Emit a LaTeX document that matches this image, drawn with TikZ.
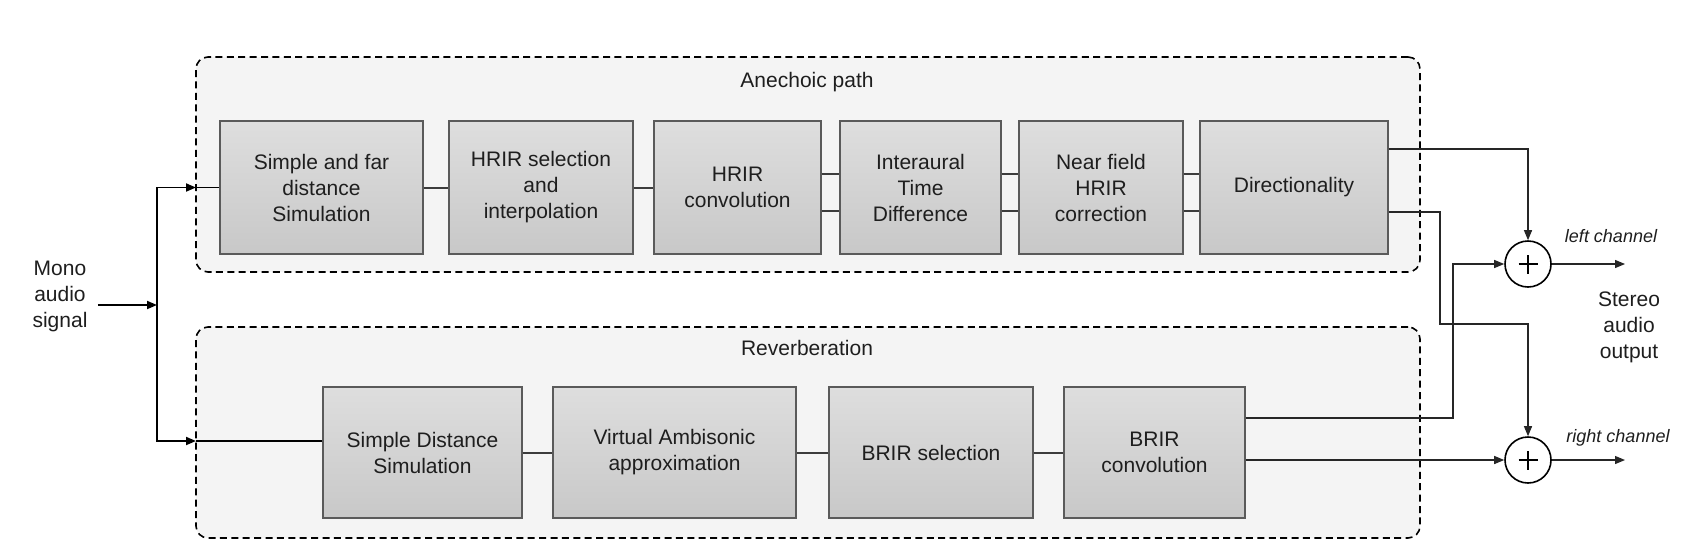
\documentclass[tikz,border=0pt]{standalone}
\usepackage{fontspec}
\setmainfont{Liberation Sans}
\usetikzlibrary{arrows.meta,shadings}
\definecolor{contfill}{HTML}{F4F4F4}
\definecolor{boxtop}{HTML}{DEDEDE}
\definecolor{boxbot}{HTML}{C8C8C8}
\definecolor{boxline}{HTML}{5A5A5A}
\definecolor{txt}{HTML}{1E1E1E}
\definecolor{conn}{HTML}{3C3C3C}
\begin{document}
\begin{tikzpicture}[x=0.5pt,y=-0.5pt,
  every node/.style={font=\fontsize{10.5}{13}\selectfont, text=txt},
  cont/.style={draw=black, dash pattern=on 3.5pt off 2.2pt, line width=0.8pt, fill=contfill, rounded corners=6pt, inner sep=0pt, minimum width=612pt},
  blk/.style={draw=boxline, line width=0.6pt, top color=boxtop, bottom color=boxbot, align=center, inner sep=0pt},
  toprow/.style={blk, minimum height=66.5pt},
  botrow/.style={blk, minimum height=65.5pt},
  link/.style={draw=conn, line width=1pt},
  feed/.style={draw=black, line width=0.9pt, -{Triangle[length=5pt,width=4pt]}},
  outl/.style={draw=black!85, line width=0.6pt, -{Triangle[length=5pt,width=4pt]}},
  plain/.style={draw=black!85, line width=0.6pt},
  sumc/.style={circle, draw=black, line width=0.8pt, minimum size=23pt, inner sep=0pt,
    path picture={
      \draw[line width=0.8pt] ([xshift=-4.75pt]path picture bounding box.center) -- ([xshift=4.75pt]path picture bounding box.center);
      \draw[line width=0.8pt] ([yshift=-4.75pt]path picture bounding box.center) -- ([yshift=4.75pt]path picture bounding box.center);
    }},
  chan/.style={font=\fontsize{9}{11}\selectfont\itshape},
  ttl/.style={font=\fontsize{10.5}{13}\selectfont}
]
\useasboundingbox (0,0) rectangle (1706,558);
\fill[white] (0,0) rectangle (1706,558);

% containers
\node[cont, minimum height=107.5pt] (anech) at (808,164.5) {};
\node[cont, minimum height=105.5pt] (reverb) at (808,432.5) {};
\node[ttl] (tA) at (807,82) {Anechoic path};
\node[ttl] (tR) at (807,348) {Reverberation};

% top row
\node[toprow, minimum width=101.5pt] (B1) at (321.5,187.5) {Simple and far\\distance\\Simulation};
\node[toprow, minimum width=92pt] (B2) at (541,187.5) {HRIR selection\\and\\interpolation};
\node[toprow, minimum width=83.5pt] (B3) at (737.5,187.5) {HRIR\\convolution};
\node[toprow, minimum width=80.5pt] (B4) at (920.5,187.5) {Interaural\\Time\\Difference};
\node[toprow, minimum width=82pt] (B5) at (1101,187.5) {Near field\\HRIR\\correction};
\node[toprow, minimum width=94pt] (B6) at (1294,187.5) {Directionality};

% bottom row
\node[botrow, minimum width=99.5pt] (B7) at (422.5,452.5) {Simple Distance\\Simulation};
\node[botrow, minimum width=121.5pt] (B8) at (674.5,452.5) {Virtual Ambisonic\\approximation};
\node[botrow, minimum width=102pt] (B9) at (931,452.5) {BRIR selection};
\node[botrow, minimum width=90.5pt] (B10) at (1154.5,452.5) {BRIR\\convolution};

% links between blocks
\draw[link] (B1.east) -- (B2.west);
\draw[link] (B2.east) -- (B3.west);
\draw[link] (B3.east |- 0,174) -- (B4.west |- 0,174);
\draw[link] (B3.east |- 0,211) -- (B4.west |- 0,211);
\draw[link] (B4.east |- 0,174) -- (B5.west |- 0,174);
\draw[link] (B4.east |- 0,211) -- (B5.west |- 0,211);
\draw[link] (B5.east |- 0,174) -- (B6.west |- 0,174);
\draw[link] (B5.east |- 0,211) -- (B6.west |- 0,211);
\draw[link] (B7.east) -- (B8.west);
\draw[link] (B8.east) -- (B9.west);
\draw[link] (B9.east) -- (B10.west);

% input
\node[align=center, inner sep=0pt] (mono) at (60,296) {Mono\\audio\\signal};
\coordinate (split) at (157,305);
\coordinate (inA) at (196,187.5);
\coordinate (inR) at (196,441);
\draw[feed] ([xshift=5pt]mono.east |- split) -- (split);
\draw[feed] (split) |- (inA);
\draw[feed] (split) |- (inR);
\draw[draw=black, line width=0.9pt] (inA) -- (B1.west);
\draw[draw=black, line width=0.9pt] (inR) -- (B7.west |- inR);

% summing nodes
\node[sumc] (sL) at (1528,264) {};
\node[sumc] (sR) at (1528,460) {};
\coordinate (k1) at (1440,324);
\coordinate (k2) at (1453,418);
\draw[outl] (B6.east |- 0,149) -| (sL.north);
\draw[outl] (B6.east |- 0,212) -| (k1) -| (sR.north);
\draw[outl] (B10.east |- k2) -- (k2) |- (sL.west);
\draw[outl] (B10.east |- sR) -- (sR.west);

% outputs
\coordinate (oL) at (1625,264);
\coordinate (oR) at (1625,460);
\draw[outl] (sL.east) -- (oL);
\draw[outl] (sR.east) -- (oR);
\node[chan] (lL) at (1611,236) {left channel};
\node[chan] (lR) at (1618,438) {right channel};
\node[align=center, inner sep=0pt] (stereo) at (1629,327) {Stereo\\audio\\output};
\end{tikzpicture}
\end{document}
